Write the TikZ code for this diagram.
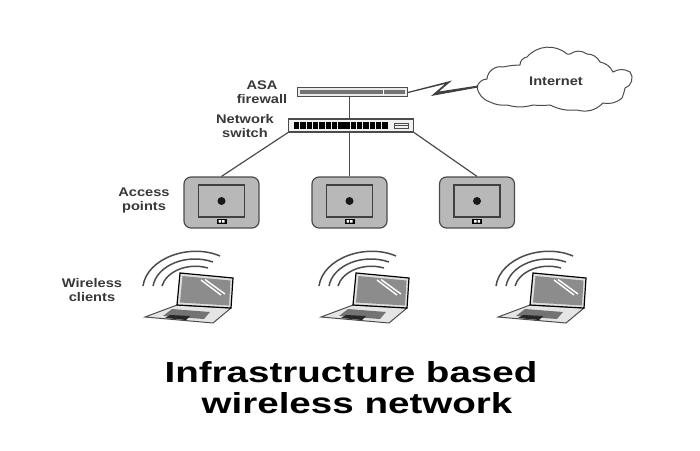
\documentclass[tikz,border=0pt]{standalone}
\usepackage{fontspec}
\setmainfont{Liberation Sans}
\usetikzlibrary{positioning,calc}
\definecolor{apgray}{gray}{0.72}
\definecolor{edgegray}{gray}{0.30}
\tikzset{
    lbl/.style={align=center,font=\fontsize{12.5}{14}\selectfont\bfseries,text=black!78,xscale=1.17,transform shape},
    titlelbl/.style={align=center,font=\fontsize{29}{29}\selectfont\bfseries,xscale=1.33,transform shape},
    ap/.style={draw=edgegray,line width=1.2pt,fill=apgray,rounded corners=7pt,minimum width=75pt,minimum height=51pt,inner sep=0pt},
    link/.style={draw=edgegray,line width=1.2pt}
}
\begin{document}
\begin{tikzpicture}[x=1pt,y=-1pt]
    \useasboundingbox (0,0) rectangle (700,450);

    % Internet cloud
    \coordinate (cloudleft) at (477,87);
    \draw[edgegray,line width=1pt,fill=white] (cloudleft) to[bend left=35] (487,79)
        to[bend left=50] (503,67) to[bend left=5] (520,65) to[bend left=40] (527,57)
        to[bend left=45] (567,54) to[bend right=10] (570,54) to[bend left=35] (587,54)
        to[bend left=30] (600,62) to[bend left=25] (613,72) to[bend left=30] (630,72)
        to[bend left=60] (625,88) to[bend left=5] (622,98) to[bend left=25] (603,103)
        to[bend left=30] (577,110) to[bend left=15] (550,105) to[bend left=5] (533,105)
        to[bend left=15] (507,105) to[bend left=15] (490,102) to[bend left=30] (cloudleft);
    \node[lbl] (inet) at (556,81) {Internet};

    % Firewall
    \node[draw=edgegray,fill=black!8,line width=1pt,minimum width=110pt,minimum height=9pt,inner sep=0pt] (fw) at (352,92) {};
    \fill[black!55] ($(fw.west)+(3,-2.2)$) rectangle ($(fw.east)+(-3,2.2)$);
    \fill[white] (382.5,89) rectangle (384,95);

    % Switch
    \node[draw=edgegray,fill=black!5,line width=1.2pt,minimum width=125pt,minimum height=13pt,inner sep=0pt] (sw) at (351,125.5) {};
    \foreach \i in {0,...,14} {
        \fill[black] ({294+\i*6.3},122) rectangle ++(5.4,7);
    }
    \draw[edgegray,line width=0.6pt] (394,123) rectangle (408,128) (394,125.5) -- (408,125.5);

    % Bolt to the cloud
    \fill[black!75] (fw.east) -- (452,80.5) -- (439,91.5) -- (478,85.5) -- (478,87.5) -- (431,96) -- (445,84) -- ($(fw.east)+(0,1.2)$) -- cycle;

    % Access points
    \foreach \n/\x in {1/221.5,2/349.5,3/477} {
        \node[ap] (ap\n) at (\x,202.5) {};
        \node[draw=black!75,fill=apgray,line width=1.1pt,minimum width=46pt,minimum height=32pt,inner sep=0pt] (pane\n) at (\x,201) {};
        \fill[black!90] (pane\n) circle (4pt);
        \node[fill=black,minimum width=10pt,minimum height=5pt,inner sep=0pt] (port\n) at (\x,221) {};
        \fill[white] (\x-3,220) rectangle ++(2.5,2.5) (\x+0.5,220) rectangle ++(2.5,2.5);
    }

    % Links
    \draw[link] (ap2.north |- fw.south) -- (ap2.north |- sw.north);
    \draw[link] (sw.south west) -- (ap1.north);
    \draw[link] (ap2.north |- sw.south) -- (ap2.north);
    \draw[link] (sw.south east) -- (ap3.north);

    % Laptops
    \foreach \n/\dx in {1/0,2/176,3/353} {
        \begin{scope}[shift={(\dx,0)}]
            \coordinate (lap\n) at (180,273);
            % Waves
            \draw[edgegray,line width=1.5pt] (143,286) .. controls (147,258) and (190,243) .. (220,256);
            \draw[edgegray,line width=1.5pt] (153,286) .. controls (157,265) and (187,253) .. (213,262);
            \draw[edgegray,line width=1.5pt] (162,286) .. controls (166,272) and (187,262) .. (208,268);
            % Base
            \draw[black!70,fill=black!10,line width=1pt] (177,305) -- (231,308) -- (213,323) -- (145,317) -- cycle;
            \fill[black!55] (172,309) -- (210,312) -- (204,319) -- (163,316) -- cycle;
            \fill[black!85] (170,315) -- (190,316) -- (186,320) -- (165,318) -- cycle;
            % Screen
            \draw[black,fill=black!12,line width=1.2pt] (lap\n) -- (233,278) -- (231,308) -- (177,305) -- cycle;
            \fill[black!45] (182.5,276) -- (230.5,280.5) -- (229,305.5) -- (180,302.5) -- cycle;
            \draw[white,line width=1.4pt] (201,280) -- (221,295);
            \draw[white,line width=1.4pt] (205,279.5) -- (225,294);
        \end{scope}
    }

    % Labels
    \node[lbl] (fwlbl) at (262,92) {ASA\\firewall};
    \node[lbl] (swlbl) at (245,126.5) {Network\\switch};
    \node[lbl] (aplbl) at (144,200.5) {Access\\points};
    \node[lbl] (wclbl) at (92,290.5) {Wireless\\clients};

    % Title
    \node[titlelbl,anchor=base] (title1) at (351,382) {Infrastructure based};
    \node[titlelbl,anchor=base] (title2) at (357,413) {wireless network};
\end{tikzpicture}
\end{document}
